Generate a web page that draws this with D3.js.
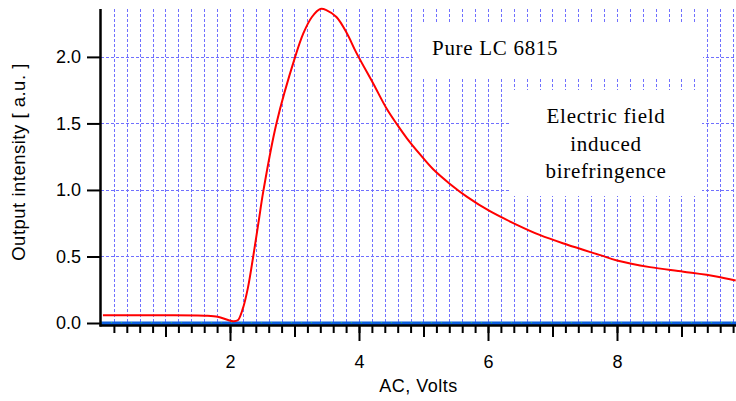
<!DOCTYPE html>
<html>
<head>
<meta charset="utf-8">
<script src="https://cdn.jsdelivr.net/npm/d3@7"></script>
<style>
  body { margin: 0; background: #fff; }
  svg { display: block; }
  .tick text { font-family: "Liberation Sans", Arial, sans-serif; font-size: 18px; fill: #000; }
  .note { font-family: "Liberation Serif", "Times New Roman", serif; font-size: 21px; letter-spacing: 0.7px; fill: #000; }
</style>
</head>
<body>
<svg id="chart" width="736" height="401"></svg>
<script>
// red trace: output intensity vs applied AC voltage
const voltage = [0.03, 0.5, 1.0, 1.5, 1.61, 1.81, 1.97, 2.05, 2.12, 2.2, 2.28, 2.36, 2.44, 2.52, 2.72, 3.01, 3.14, 3.27, 3.40, 3.50, 3.65, 3.81, 3.96, 4.22, 4.43, 4.60, 4.74, 4.95, 5.15, 5.41, 5.67, 6.03, 6.44, 6.81, 7.22, 7.74, 8.0, 8.51, 9.03, 9.54, 9.84];
const intensity = [0.058, 0.058, 0.058, 0.057, 0.055, 0.047, 0.022, 0.013, 0.02, 0.11, 0.27, 0.50, 0.75, 1.0, 1.50, 2.0, 2.18, 2.30, 2.36, 2.35, 2.30, 2.18, 2.03, 1.80, 1.61, 1.485, 1.39, 1.265, 1.155, 1.045, 0.95, 0.84, 0.74, 0.66, 0.59, 0.51, 0.47, 0.42, 0.386, 0.35, 0.32];

// baseline traces sitting at zero
const baseX = [0, 9.845];
const blueY = [-0.006, -0.006];
const greenY = [0.004, 0.004];

const xDomain = [0, 9.845];
const yDomain = [-0.015, 2.36];
const yTicks = [0, 0.5, 1.0, 1.5, 2.0];
const xLabelTicks = [2, 4, 6, 8];
const xOddTicks = [1, 3, 5, 7, 9];
const xMinorTicks = d3.range(1, 50).map(i => +(i * 0.2).toFixed(1));

const notes = [
  { lines: ['Pure LC 6815'], box: [413, 23, 290, 54], anchor: 'start', tx: 432, ty: 55 },
  { lines: ['Electric field', 'induced', 'birefringence'], box: [510, 90, 192, 106], anchor: 'middle', tx: 606, ty: 123 }
];

const svg = d3.select('#chart');
const plotL = 101, plotR = 736, plotT = 9, plotB = 325;

const x = d3.scaleLinear().domain(xDomain).range([plotL, plotR]);
const y = d3.scaleLinear().domain(yDomain).range([plotB, plotT]);

const grid = svg.append('g').attr('class', 'grid')
  .attr('stroke', '#7070ff')
  .attr('stroke-width', 1)
  .attr('stroke-dasharray', '3,2');

grid.selectAll('line.v')
  .data(xMinorTicks)
  .enter()
  .append('line')
  .attr('class', 'v')
  .attr('x1', d => Math.round(x(d)) + 0.5)
  .attr('x2', d => Math.round(x(d)) + 0.5)
  .attr('y1', plotT)
  .attr('y2', y(0));

grid.selectAll('line.h')
  .data(yTicks.filter(d => d > 0))
  .enter()
  .append('line')
  .attr('class', 'h')
  .attr('x1', plotL)
  .attr('x2', plotR)
  .attr('y1', d => Math.round(y(d)) + 0.5)
  .attr('y2', d => Math.round(y(d)) + 0.5);

// annotation boxes hide the grid behind them
const noteG = svg.append('g').selectAll('g')
  .data(notes)
  .enter()
  .append('g');

noteG.append('rect')
  .attr('x', d => d.box[0])
  .attr('y', d => d.box[1])
  .attr('width', d => d.box[2])
  .attr('height', d => d.box[3])
  .attr('fill', '#fff');

noteG.each(function (d) {
  const g = d3.select(this);
  d.lines.forEach((t, i) => {
    g.append('text')
      .attr('class', 'note')
      .attr('x', d.tx)
      .attr('y', d.ty + i * 27.5)
      .attr('text-anchor', d.anchor)
      .text(t);
  });
});

const line = d3.line()
  .x(d => x(d[0]))
  .y(d => y(d[1]));

svg.append('path')
  .datum(baseX.map((v, i) => [v, blueY[i]]))
  .attr('fill', 'none')
  .attr('stroke', '#0d5fe0')
  .attr('stroke-width', 4.5)
  .attr('d', line);

svg.append('path')
  .datum(baseX.map((v, i) => [v, greenY[i]]))
  .attr('fill', 'none')
  .attr('stroke', '#30d050')
  .attr('stroke-width', 1)
  .attr('stroke-dasharray', '1,9')
  .attr('d', line);

svg.append('path')
  .datum(voltage.map((v, i) => [v, intensity[i]]))
  .attr('fill', 'none')
  .attr('stroke', '#ff0000')
  .attr('stroke-width', 2)
  .attr('stroke-linejoin', 'round')
  .attr('d', line.curve(d3.curveCatmullRom.alpha(0.5)));

// axes
const xAxisG = svg.append('g').attr('transform', `translate(0,${plotB})`);

xAxisG.append('g')
  .call(d3.axisBottom(x).tickValues(xMinorTicks).tickSize(8).tickFormat(''))
  .call(g => g.select('.domain').remove());
xAxisG.append('g')
  .call(d3.axisBottom(x).tickValues(xOddTicks).tickSize(12).tickFormat(''))
  .call(g => g.select('.domain').remove());
xAxisG.append('g')
  .call(d3.axisBottom(x).tickValues(xLabelTicks).tickSize(16).tickPadding(14).tickFormat(d3.format('d')))
  .call(g => g.select('.domain').remove());

xAxisG.selectAll('.tick line').attr('stroke', '#000').attr('stroke-width', 2);

xAxisG.append('line')
  .attr('x1', plotL - 1.5)
  .attr('x2', plotR)
  .attr('y1', 0.5)
  .attr('y2', 0.5)
  .attr('stroke', '#000')
  .attr('stroke-width', 2.5);

const yAxisG = svg.append('g').attr('transform', `translate(${plotL},0)`);
yAxisG.call(d3.axisLeft(y).tickValues(yTicks).tickSize(14).tickPadding(6).tickFormat(d3.format('.1f')))
  .call(g => g.select('.domain').remove());
yAxisG.selectAll('.tick line').attr('stroke', '#000').attr('stroke-width', 2);

yAxisG.append('line')
  .attr('x1', -0.5)
  .attr('x2', -0.5)
  .attr('y1', plotT)
  .attr('y2', plotB + 1.5)
  .attr('stroke', '#000')
  .attr('stroke-width', 2.5);

svg.append('text')
  .attr('x', (plotL + plotR) / 2)
  .attr('y', 392)
  .attr('text-anchor', 'middle')
  .style('font-family', '"Liberation Sans", Arial, sans-serif')
  .style('font-size', '18px')
  .style('letter-spacing', '0.5px')
  .text('AC, Volts');

svg.append('text')
  .attr('transform', 'translate(25,162) rotate(-90)')
  .attr('text-anchor', 'middle')
  .style('font-family', '"Liberation Sans", Arial, sans-serif')
  .style('font-size', '18.5px')
  .style('letter-spacing', '0.5px')
  .text('Output intensity [ a.u. ]');
</script>
</body>
</html>
